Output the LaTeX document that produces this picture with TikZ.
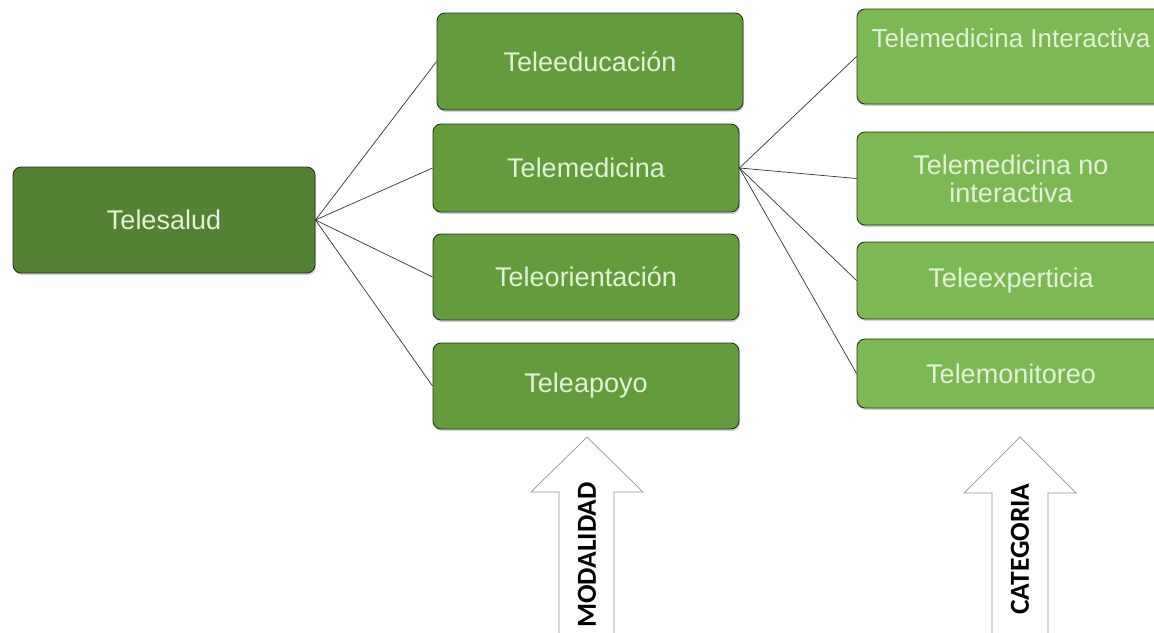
\documentclass[tikz,border=0pt]{standalone}
\usepackage{fontspec}
\setmainfont{Liberation Sans}
\newfontfamily\arrowfont{Carlito}
\usepackage{tikz}
\usetikzlibrary{shadows}
\definecolor{dd}{RGB}{84, 130, 53}
\definecolor{mm}{RGB}{99, 156, 61}
\definecolor{ll}{RGB}{124, 185, 84}
\definecolor{tt}{RGB}{228, 241, 218}
\definecolor{ee}{RGB}{38, 56, 28}
\definecolor{gg}{RGB}{150, 150, 150}

\begin{document}
\begin{tikzpicture}[
box/.style={rounded corners=8pt, line width=0.9pt, draw=ee, text=tt, align=center, inner sep=0pt,
  font=\fontsize{27}{28}\selectfont, drop shadow={shadow xshift=1pt, shadow yshift=-2pt, opacity=0.35}},
link/.style={line width=0.7pt, color=black!80},
bigarrow/.style={line width=0.7pt, draw=gg, fill=white},
arrowtext/.style={rotate=90, font=\arrowfont\bfseries\fontsize{27.5}{28}\selectfont}]
\useasboundingbox[fill=white] (0pt, 0pt) rectangle (1154pt, -632pt);
\node (1) [box, fill=dd, minimum width=302pt, minimum height=106pt] at (164pt, -220pt) {Telesalud};
\node (2) [box, fill=mm, minimum width=306pt, minimum height=97pt] at (590pt, -61.5pt) {Teleeducación};
\node (3) [box, fill=mm, minimum width=306pt, minimum height=88pt] at (586pt, -168pt) {Telemedicina};
\node (4) [box, fill=mm, minimum width=306pt, minimum height=86pt] at (586pt, -277pt) {Teleorientación};
\node (5) [box, fill=mm, minimum width=306pt, minimum height=86pt] at (586pt, -386pt) {Teleapoyo};
\node (6) [box, fill=ll, minimum width=308pt, minimum height=95pt, font=\fontsize{26}{28}\selectfont] at (1011pt, -56.5pt) {Telemedicina Interactiva\\\strut};
\node (7) [box, fill=ll, minimum width=308pt, minimum height=93pt] at (1011pt, -178.5pt) {Telemedicina no\\interactiva};
\node (8) [box, fill=ll, minimum width=308pt, minimum height=77pt] at (1011pt, -280.5pt) {Teleexperticia};
\node (9) [box, fill=ll, minimum width=308pt, minimum height=69pt] at (1011pt, -373.5pt) {Telemonitoreo};
\draw [link] (1.east) to (2.west);
\draw [link] (1.east) to (3.west);
\draw [link] (1.east) to (4.west);
\draw [link] (1.east) to (5.west);
\draw [link] (3.east) to (6.west);
\draw [link] (3.east) to (7.west);
\draw [link] (3.east) to (8.west);
\draw [link] (3.east) to (9.west);
\draw [bigarrow] (559pt, -645pt) -- (559pt, -492pt) -- (531pt, -492pt) -- (587pt, -437pt) -- (643pt, -492pt) -- (614pt, -492pt) -- (614pt, -645pt);
\draw [bigarrow] (992pt, -645pt) -- (992pt, -493pt) -- (964pt, -493pt) -- (1020pt, -437pt) -- (1076pt, -493pt) -- (1048pt, -493pt) -- (1048pt, -645pt);
\node (10) [arrowtext] at (587pt, -555pt) {MODALIDAD};
\node (11) [arrowtext] at (1020pt, -549pt) {CATEGORIA};
\end{tikzpicture}
\end{document}
